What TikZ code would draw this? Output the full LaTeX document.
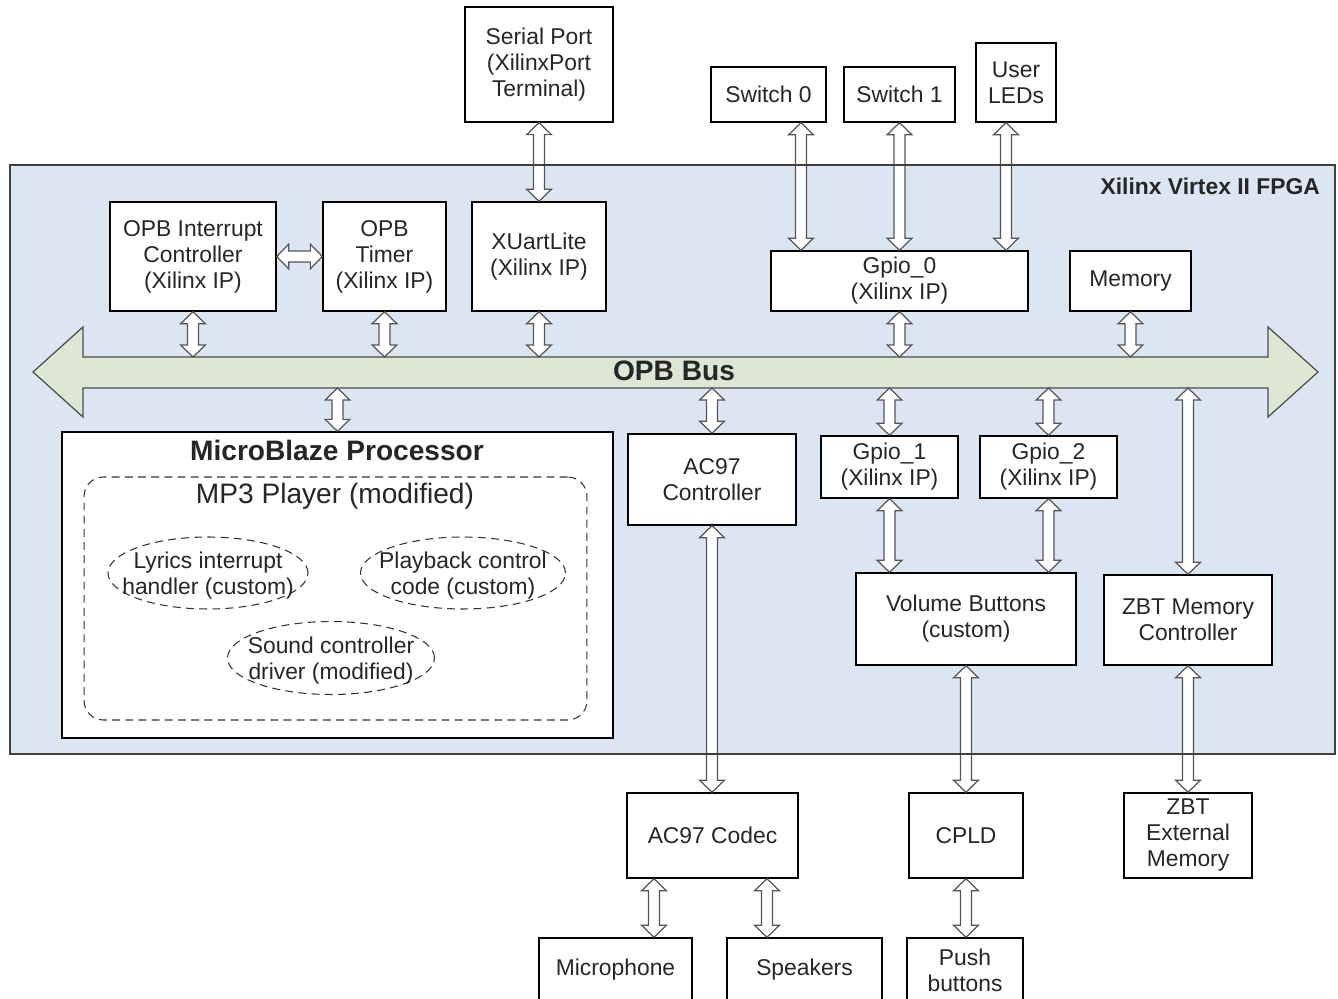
\documentclass[tikz,border=0pt]{standalone}
\usepackage{fontspec}
\setmainfont{Liberation Sans}
\usetikzlibrary{positioning, calc, shapes.geometric}

\definecolor{fpgablue}{HTML}{DCE6F2}
\definecolor{busgreen}{HTML}{DEE7D6}
\definecolor{wiregray}{HTML}{555555}

% hollow two-way arrow between two points
\newcommand{\duplex}[2]{%
  \draw[duplex] let \p1=(#1), \p2=(#2), \n1={veclen(\x2-\x1,\y2-\y1)},
    \n2={atan2(\y2-\y1,\x2-\x1)} in
    {[shift={(\p1)}, rotate=\n2]
    (0pt,0pt) -- (6.8pt,7pt) -- (6.8pt,3.1pt) -- ({\n1-6.8pt},3.1pt) -- ({\n1-6.8pt},7pt)
    -- ({\n1+0pt},0pt) -- ({\n1-6.8pt},-7pt) -- ({\n1-6.8pt},-3.1pt) -- (6.8pt,-3.1pt)
    -- (6.8pt,-7pt) -- cycle};}

\begin{document}
\begin{tikzpicture}[x=0.02cm, y=-0.02cm,
  font=\fontsize{13}{14.8}\selectfont, text=black!85,
  blk/.style 2 args={draw=black, fill=white, line width=0.8pt, align=center,
    inner sep=1pt, minimum width=#1cm, minimum height=#2cm},
  soft/.style 2 args={draw=black!80, ellipse, line width=0.6pt,
    dash pattern=on 4.5pt off 3pt, inner sep=0pt, minimum width=#1cm, minimum height=#2cm},
  inlbl/.style={align=center, yshift=-0.06cm},
  duplex/.style={draw=wiregray, fill=white, line width=0.7pt, line join=miter}]
\path[use as bounding box, clip] (0,0) rectangle (1338,999);

% FPGA area and bus
\fill[fpgablue] (10,165) rectangle (1335,754);
\draw[fill=busgreen, draw=black!70, line width=0.7pt] (33,372) -- (83,327) -- (83,357) -- (1268,357)
  -- (1268,327) -- (1318,372) -- (1268,417) -- (1268,388) -- (83,388) -- (83,417) -- cycle;
\node[font=\bfseries\fontsize{16}{18}\selectfont] (buslbl) at (674,371) {OPB Bus};
\coordinate (bustop) at (0,357);
\coordinate (busbot) at (0,388);
\node[anchor=east, font=\bfseries\fontsize{13}{15}\selectfont] (fpgalbl) at (1326,186) {Xilinx Virtex II FPGA};

% outside, top
\node[blk={2.96}{2.3}] (serial) at (539,64.5) {Serial Port\\(XilinxPort\\Terminal)};
\node[blk={2.3}{1.1}] (sw0) at (768.5,94.5) {Switch 0};
\node[blk={2.22}{1.1}] (sw1) at (899.5,94.5) {Switch 1};
\node[blk={1.6}{1.58}] (leds) at (1016,82.5) {User\\LEDs};

% peripherals above the bus
\node[blk={3.32}{2.18}] (intc) at (193,256.5) {OPB Interrupt\\Controller\\(Xilinx IP)};
\node[blk={2.46}{2.18}] (timer) at (384.5,256.5) {OPB\\Timer\\(Xilinx IP)};
\node[blk={2.68}{2.18}] (uart) at (539,256.5) {XUartLite\\(Xilinx IP)};
\node[blk={5.14}{1.2}] (gpio0) at (899.5,281) {Gpio\_0\\(Xilinx IP)};
\node[blk={2.42}{1.2}] (mem) at (1130.5,281) {Memory};

% below the bus
\node[blk={11.02}{6.12}] (mb) at (337.5,585) {};
\node[font=\bfseries\fontsize{16}{18}\selectfont] (mbtitle) at (337,450) {MicroBlaze Processor};
\node[draw=black!80, line width=0.6pt, dash pattern=on 4.5pt off 3pt, rounded corners=11pt,
  minimum width=10.06cm, minimum height=4.86cm] (mp3) at (335.5,598.5) {};
\node[font=\fontsize{16}{18}\selectfont] (mp3lbl) at (335,496) {MP3 Player (modified)};
\node[soft={4.0}{1.44}, label={[inlbl]center:Lyrics interrupt\\handler (custom)}] (lyrics) at (208,573) {};
\node[soft={4.1}{1.44}, label={[inlbl]center:Playback control\\code (custom)}] (playback) at (463,573) {};
\node[soft={4.14}{1.46}, label={[inlbl]center:Sound controller\\driver (modified)}] (sound) at (331,658) {};

\node[blk={3.36}{1.82}] (ac97c) at (712,479.5) {AC97\\Controller};
\node[blk={2.74}{1.24}] (gpio1) at (889.5,467) {Gpio\_1\\(Xilinx IP)};
\node[blk={2.74}{1.24}] (gpio2) at (1048.5,467) {Gpio\_2\\(Xilinx IP)};
\node[blk={4.4}{1.84}] (vol) at (966,619) {Volume Buttons\\(custom)};
\node[blk={3.36}{1.8}] (zbtc) at (1188,620) {ZBT Memory\\Controller};

% outside, bottom
\node[blk={3.42}{1.7}] (codec) at (712.5,835.5) {AC97 Codec};
\node[blk={2.28}{1.7}] (cpld) at (966,835.5) {CPLD};
\node[blk={2.56}{1.7}] (zbtx) at (1188,835.5) {ZBT\\External\\Memory};
\node[blk={3.06}{1.28}] (mic) at (615.5,970) {Microphone};
\node[blk={3.1}{1.28}] (spk) at (804.5,970) {Speakers};
\node[blk={2.32}{1.28}] (push) at (965,970) {Push\\buttons};

% connectors
\coordinate (s0) at ([xshift=0.65cm]sw0.south);
\coordinate (ld) at ([xshift=-0.2cm]leds.south);
\coordinate (cm) at ([xshift=-1.17cm]codec.south);
\coordinate (cs) at ([xshift=1.09cm]codec.south);
\duplex{serial.south}{serial.south |- uart.north}
\duplex{s0}{s0 |- gpio0.north}
\duplex{sw1.south}{sw1.south |- gpio0.north}
\duplex{ld}{ld |- gpio0.north}
\duplex{intc.east}{timer.west}
\foreach \b in {intc, timer, uart, gpio0, mem}
  {\duplex{\b.south}{\b.south |- bustop}}
\foreach \b in {mb, ac97c, gpio1, gpio2, zbtc}
  {\duplex{\b.north |- busbot}{\b.north}}
\duplex{gpio1.south}{gpio1.south |- vol.north}
\duplex{gpio2.south}{gpio2.south |- vol.north}
\duplex{ac97c.south}{ac97c.south |- codec.north}
\duplex{vol.south}{vol.south |- cpld.north}
\duplex{zbtc.south}{zbtc.south |- zbtx.north}
\duplex{cm}{cm |- mic.north}
\duplex{cs}{cs |- spk.north}
\duplex{cpld.south}{cpld.south |- push.north}

\draw[black!75, line width=1.2pt] (10,165) rectangle (1335,754);
\end{tikzpicture}
\end{document}
